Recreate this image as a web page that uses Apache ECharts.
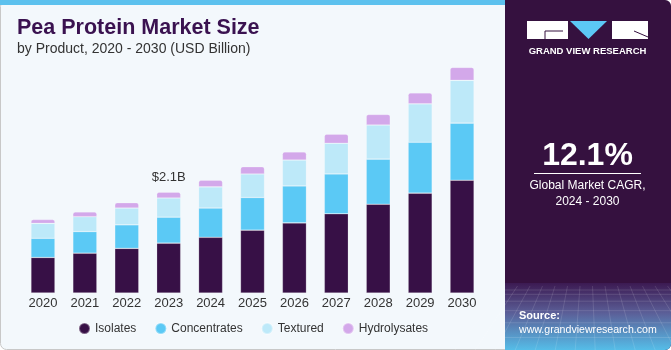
<!DOCTYPE html>
<html>
<head>
<meta charset="utf-8">
<script src="https://cdn.jsdelivr.net/npm/echarts@6/dist/echarts.min.js"></script>
<style>
html,body{margin:0;padding:0;background:#fff;}
#c{width:671px;height:350px;}
</style>
</head>
<body>
<div id="c"></div>
<script>
var years = ['2020','2021','2022','2023','2024','2025','2026','2027','2028','2029','2030'];
var isolates = [0.74, 0.83, 0.93, 1.04, 1.16, 1.31, 1.46, 1.65, 1.85, 2.08, 2.35];
var concentrates = [0.40, 0.45, 0.49, 0.54, 0.61, 0.68, 0.77, 0.83, 0.94, 1.06, 1.19];
var textured = [0.31, 0.31, 0.35, 0.40, 0.44, 0.49, 0.54, 0.64, 0.71, 0.80, 0.89];
var hydrolysates = [0.08, 0.10, 0.11, 0.12, 0.14, 0.15, 0.17, 0.19, 0.22, 0.23, 0.27];
var labelYear = '2023';
var labelText = '$2.1B';

var FONT = 'Liberation Sans, Arial, sans-serif';
var chart = echarts.init(document.getElementById('c'), null, {renderer:'canvas'});

function seriesOf(name, data, color, isTop){
  return {
    name: name, type: 'bar', stack: 'total', barWidth: 24,
    itemStyle: {color: color, borderColor: 'rgba(255,255,255,0.35)', borderWidth: 0.6,
      borderRadius: isTop ? [2,2,0,0] : 0},
    emphasis: {disabled: true},
    data: data.map(function(v, i){
      var item = {value: v};
      if (isTop && years[i] === labelYear) {
        item.label = {show: true, position: 'top', distance: 8, formatter: labelText,
          fontFamily: FONT, fontSize: 13, color: '#333'};
      }
      return item;
    })
  };
}

var graphics = [
  {type:'rect', shape:{x:0.5,y:0.5,width:670,height:349,r:6}, style:{fill:'#f3f8fc', stroke:'#c8c8c8', lineWidth:1}, z:-10},
  {type:'rect', shape:{x:0,y:0,width:506,height:5}, style:{fill:'#5cc1ee'}, z:-9},
  {type:'rect', shape:{x:505,y:0,width:166,height:350,r:[0,6,6,0]}, style:{fill:'#35113f'}, z:-8},
  {type:'rect', shape:{x:505,y:283,width:166,height:67,r:[0,0,6,0]}, style:{fill:{type:'linear',x:0,y:0,x2:0,y2:1,colorStops:[{offset:0,color:'#3c1a52'},{offset:0.45,color:'#5b5f98'},{offset:1,color:'#55bde8'}]}}, z:-7}
];
// faint mesh texture in the panel's lower band
for (var k = 0; k < 7; k++) {
  var yy = 290 + k * k * 1.3 + k * 3;
  graphics.push({type:'line', shape:{x1:505,y1:yy,x2:671,y2:yy}, style:{stroke:'rgba(255,255,255,0.13)', lineWidth:1}, z:-6});
}
for (var j = 0; j < 14; j++) {
  var xt = 505 + j * 12.5;
  var xb = 588 + (xt - 588) * 1.6;
  graphics.push({type:'line', shape:{x1:xt,y1:286,x2:xb,y2:350}, style:{stroke:'rgba(255,255,255,0.12)', lineWidth:1}, z:-6});
}
graphics = graphics.concat([
  // logo
  {type:'rect', shape:{x:527,y:21,width:41,height:18}, style:{fill:'#ffffff'}, z:5},
  {type:'polyline', shape:{points:[[563,31],[545,31],[545,39]]}, style:{stroke:'#35113f', lineWidth:1, fill:null}, z:6},
  {type:'polygon', shape:{points:[[570,21],[607,21],[588.5,39]]}, style:{fill:'#5cc8f5'}, z:5},
  {type:'rect', shape:{x:612,y:21,width:36,height:18}, style:{fill:'#ffffff'}, z:5},
  {type:'line', shape:{x1:634,y1:31,x2:648,y2:37}, style:{stroke:'#35113f', lineWidth:1}, z:6},
  {type:'text', x:587.5, y:51.5, style:{text:'GRAND VIEW RESEARCH', fill:'#ffffff', font:'bold 9.5px ' + FONT, textAlign:'center', textVerticalAlign:'middle'}, z:5},
  // CAGR
  {type:'text', x:587.5, y:156, style:{text:'12.1%', fill:'#ffffff', font:'bold 32px ' + FONT, textAlign:'center', textVerticalAlign:'middle'}, z:5},
  {type:'line', shape:{x1:534,y1:173.5,x2:641,y2:173.5}, style:{stroke:'#ffffff', lineWidth:1}, z:5},
  {type:'text', x:587.5, y:186, style:{text:'Global Market CAGR,', fill:'#ffffff', font:'12px ' + FONT, textAlign:'center', textVerticalAlign:'middle'}, z:5},
  {type:'text', x:587.5, y:202, style:{text:'2024 - 2030', fill:'#ffffff', font:'12px ' + FONT, textAlign:'center', textVerticalAlign:'middle'}, z:5},
  // source
  {type:'text', x:519, y:316, style:{text:'Source:', fill:'#ffffff', font:'bold 11px ' + FONT, textAlign:'left', textVerticalAlign:'middle'}, z:5},
  {type:'text', x:519, y:330, style:{text:'www.grandviewresearch.com', fill:'#ffffff', font:'10.6px ' + FONT, textAlign:'left', textVerticalAlign:'middle'}, z:5},
  // titles
  {type:'text', x:17, y:28, style:{text:'Pea Protein Market Size', fill:'#3a1250', font:'bold 21.5px ' + FONT, textAlign:'left', textVerticalAlign:'middle'}, z:5},
  {type:'text', x:17, y:49, style:{text:'by Product, 2020 - 2030 (USD Billion)', fill:'#333333', font:'14px ' + FONT, textAlign:'left', textVerticalAlign:'middle'}, z:5}
]);

chart.setOption({
  backgroundColor: 'transparent',
  animation: false,
  graphic: graphics,
  legend: {
    left: 73, top: 317, icon: 'circle', itemWidth: 11, itemHeight: 11, itemGap: 18,
    textStyle: {fontFamily: FONT, fontSize: 12, color: '#333'},
    selectedMode: false,
    data: ['Isolates','Concentrates','Textured','Hydrolysates']
  },
  grid: {left: 22, right: 188, top: 53, bottom: 57, containLabel: false},
  xAxis: {
    type: 'category', data: years,
    axisLine: {show: false}, axisTick: {show: false},
    axisLabel: {fontFamily: FONT, fontSize: 13, color: '#333', margin: 4}
  },
  yAxis: {type: 'value', min: 0, max: 5, show: false, splitLine: {show: false}},
  series: [
    seriesOf('Isolates', isolates, '#371046', false),
    seriesOf('Concentrates', concentrates, '#5bc9f5', false),
    seriesOf('Textured', textured, '#bde9f9', false),
    seriesOf('Hydrolysates', hydrolysates, '#d3a8ea', true)
  ]
});
</script>
</body>
</html>
